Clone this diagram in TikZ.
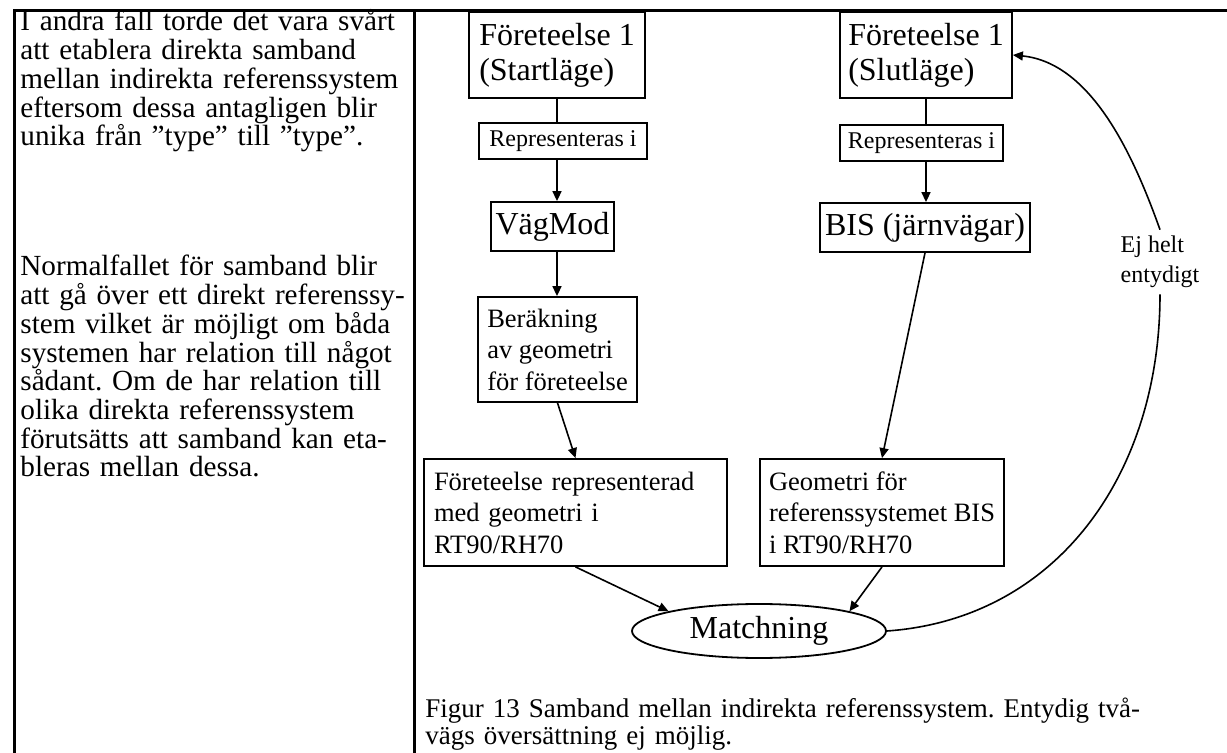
\documentclass[tikz,border=0pt]{standalone}
\usepackage{fontspec}
\setmainfont{Liberation Serif}
\frenchspacing
\usetikzlibrary{arrows.meta,shapes.geometric}
\tikzset{>={Triangle[length=5pt,width=4.5pt]}}
\tikzset{
	box/.style={draw, line width=0.9pt, inner sep=0pt, align=left},
	big/.style={font=\fontsize{16}{17.5}\selectfont},
	mid/.style={font=\fontsize{13.25}{15.75}\selectfont},
	small/.style={font=\fontsize{12}{15}\selectfont},
	para/.style={anchor=base west, inner sep=0pt, align=left},
	bodytext/.style={font=\fontsize{14.6}{14.35}\selectfont, execute at begin node={\setlength{\baselineskip}{14.35pt}\setlength{\lineskiplimit}{-5pt}}},
	captext/.style={font=\fontsize{13.5}{13.5}\selectfont, execute at begin node={\setlength{\baselineskip}{13.5pt}}},
	link/.style={line width=0.8pt}
}

\begin{document}
\begin{tikzpicture}[x=0.5pt, y=-0.5pt]
		\useasboundingbox (0,0) rectangle (1227,753);
		% table lines
		\draw[line width=1.5pt] (13,11) -- (1227,11);
		\draw[line width=1.5pt] (14,11) -- (14,753);
		\draw[line width=1.5pt] (414,11) -- (414,753);
		% left column
		\node[para, bodytext, text width=215pt] (intro) at (20,31) {I andra fall torde det vara svårt\\att etablera direkta samband\\mellan indirekta referenssystem\\eftersom dessa antagligen blir\\unika från ”type” till ”type”.};
		\node[para, bodytext, text width=215pt] (normal) at (20,276) {Normalfallet för samband blir\\att gå över ett direkt referenssy-\\stem vilket är möjligt om båda\\systemen har relation till något\\sådant. Om de har relation till\\olika direkta referenssystem\\förutsätts att samband kan eta-\\bleras mellan dessa.};
		% left chain
		\node[box, big, minimum width=88pt, minimum height=43pt] (start) at (557,55) {Företeelse 1\\(Startläge)};
		\node[box, small, minimum width=84pt, minimum height=18pt] (rep1) at (563,141) {Representeras i};
		\node[box, big, minimum width=61.5pt, minimum height=24.5pt] (vag) at (552.5,226.5) {VägMod};
		\node[box, mid, minimum width=79.5pt, minimum height=52.5pt] (ber) at (557.5,349.5) {Beräkning\\av geometri\\för företeelse};
		\node[box, mid, text width=141.5pt, inner xsep=5pt, minimum height=53.5pt] (frep) at (575.5,512.5) {Företeelse representerad\\med geometri i\\RT90/RH70};
		% right chain
		\node[box, big, minimum width=86pt, minimum height=43pt] (slut) at (926,55) {Företeelse 1\\(Slutläge)};
		\node[box, small, minimum width=81.5pt, minimum height=18pt] (rep2) at (921.5,143) {Representeras i};
		\node[box, big, minimum width=105pt, minimum height=24.5pt] (bis) at (925,227.5) {BIS (järnvägar)};
		\node[box, mid, minimum width=122pt, minimum height=53.5pt] (geo) at (882,512.5) {Geometri för\\referenssystemet BIS\\i RT90/RH70};
		\node[draw, ellipse, line width=0.9pt, big, inner sep=0pt, minimum width=127pt, minimum height=27pt] (match) at (759,631) {Matchning};
		\node[small, align=left, inner xsep=1pt, inner ysep=3pt] (ej) at (1160,262) {Ej helt\\entydigt};
		% connectors
		\draw[link] (start.south) -- (start.south |- rep1.north);
		\draw[link, ->] (start.south |- rep1.south) -- (start.south |- vag.north);
		\draw[link, ->] (start.south |- vag.south) -- (start.south |- ber.north);
		\draw[link, ->] (ber.south) -- (frep.north);
		\draw[link, ->] (frep.south) -- (match.north west);
		\draw[link] (slut.south) -- (slut.south |- rep2.north);
		\draw[link, ->] (slut.south |- rep2.south) -- (slut.south |- bis.north);
		\draw[link, ->] (bis.south) -- (geo.north);
		\draw[link, ->] (geo.south) -- (match.north east);
		\draw[link] (match.east) .. controls +(170,-12) and +(0,180) .. (ej.south);
		\draw[link, ->] (ej.north) .. controls +(-25,-70) and +(80,8) .. (slut.east);
		% caption
		\node[para, captext, text width=390pt] (cap) at (425,717) {Figur 13 Samband mellan indirekta referenssystem. Entydig två-\\vägs översättning ej möjlig.};
	\end{tikzpicture}
\end{document}
